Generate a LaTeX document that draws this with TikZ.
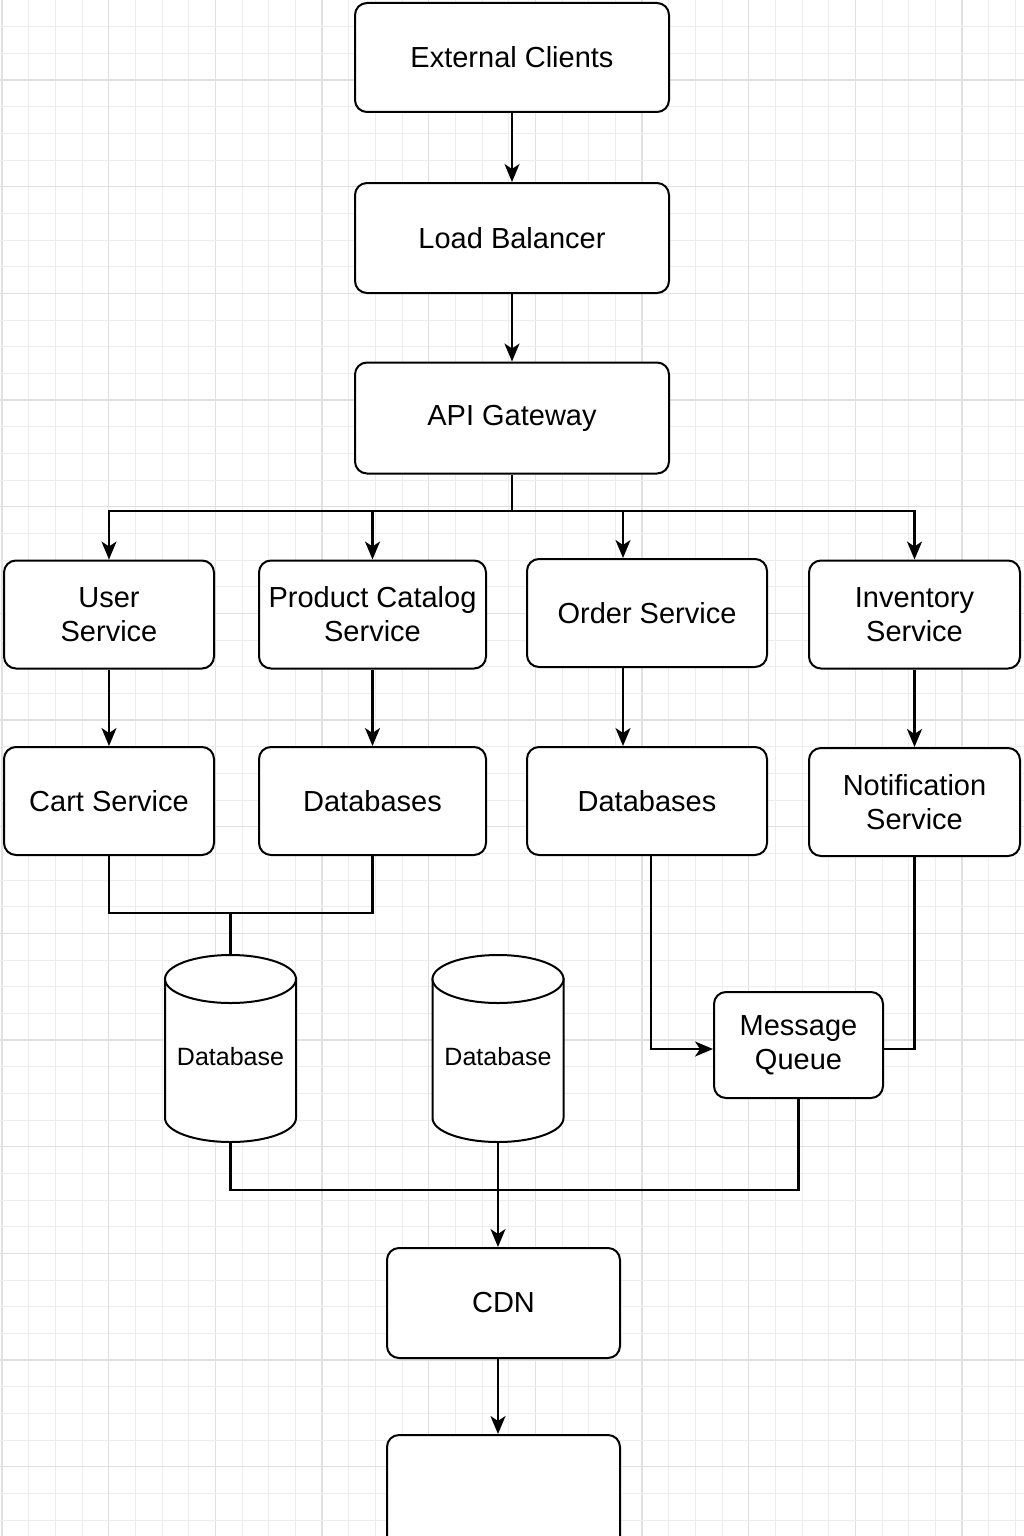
\documentclass[tikz,border=0pt]{standalone}
\usepackage{fontspec}
\setmainfont{Liberation Sans}
\usetikzlibrary{arrows.meta}
\begin{document}
\begin{tikzpicture}[x=1pt,y=-1pt,
  box/.style={draw, line width=2pt, rounded corners=12pt, fill=white, align=center, inner sep=0pt, font=\fontsize{29}{34}\selectfont},
  conn/.style={line width=2.2pt},
  arr/.style={conn, -{Stealth[length=18pt,width=15pt,inset=5pt]}},
  cyl/.style={draw, line width=2pt, fill=white},
  dbtext/.style={font=\fontsize{25}{30}\selectfont, inner sep=0pt},
  minorgrid/.style={draw=black!7, line width=1pt},
  majorgrid/.style={draw=black!12, line width=1.2pt}]
\clip (0,0) rectangle (1024,1536);
\fill[white] (0,0) rectangle (1024,1536);
% grid
\foreach \k in {0,...,38} {
  \pgfmathsetmacro{\xx}{2+26.667*\k}
  \pgfmathtruncatemacro{\m}{mod(\k,4)}
  \ifnum\m=0 \draw[majorgrid] (\xx,0) -- (\xx,1536); \else \draw[minorgrid] (\xx,0) -- (\xx,1536); \fi
}
\foreach \k in {0,...,58} {
  \pgfmathsetmacro{\yy}{26.667*\k}
  \pgfmathtruncatemacro{\m}{mod(\k,4)}
  \ifnum\m=3 \draw[majorgrid] (0,\yy) -- (1024,\yy); \else \draw[minorgrid] (0,\yy) -- (1024,\yy); \fi
}
% main column
\node[box, minimum width=314, minimum height=109] (ec) at (512,57.5) {External Clients};
\node[box, minimum width=314, minimum height=110] (lb) at (512,238) {Load Balancer};
\node[box, minimum width=314, minimum height=111] (api) at (512,418) {API Gateway};
% row 1
\node[box, minimum width=210, minimum height=108] (us) at (109,614.5) {User\\Service};
\node[box, minimum width=227, minimum height=108] (pc) at (372.5,614.5) {Product Catalog\\Service};
\node[box, minimum width=240, minimum height=108] (os) at (647,613) {Order Service};
\node[box, minimum width=211, minimum height=108] (is) at (914.5,614.5) {Inventory\\Service};
% row 2
\node[box, minimum width=210, minimum height=108] (cs) at (109,801) {Cart Service};
\node[box, minimum width=227, minimum height=108] (pdb) at (372.5,801) {Databases};
\node[box, minimum width=240, minimum height=108] (odb) at (647,801) {Databases};
\node[box, minimum width=211, minimum height=108] (ns) at (914.5,802) {Notification\\Service};
% message queue
\node[box, minimum width=169, minimum height=106] (mq) at (798.5,1045) {Message\\Queue};
% cylinders
\node[minimum width=131, minimum height=187, inner sep=0pt] (db1) at (230.5,1048.5) {};
\draw[cyl] (165,979) -- (165,1118) arc[start angle=180, end angle=0, x radius=65.5, y radius=24] -- (296,979) -- cycle;
\draw[cyl] (230.5,979) ellipse[x radius=65.5, y radius=24];
\node[dbtext] (db1t) at (230.5,1057) {Database};
\node[minimum width=131, minimum height=187, inner sep=0pt] (db2) at (498,1048.5) {};
\draw[cyl] (432.5,979) -- (432.5,1118) arc[start angle=180, end angle=0, x radius=65.5, y radius=24] -- (563.5,979) -- cycle;
\draw[cyl] (498,979) ellipse[x radius=65.5, y radius=24];
\node[dbtext] (db2t) at (498,1057) {Database};
% CDN and output
\node[box, minimum width=233, minimum height=110] (cdn) at (503.5,1303) {CDN};
\node[box, minimum width=233, minimum height=125] (out) at (503.5,1497.5) {};
% connectors
\draw[arr] (ec) -- (lb);
\draw[arr] (lb) -- (api);
\coordinate (j) at (512,511);
\draw[conn] (api.south) -- (j);
\draw[arr] (j) -| (us.north);
\draw[arr] (j) -| (pc.north);
\draw[arr] (j) -| ([xshift=-24pt]os.north);
\draw[arr] (j) -| (is.north);
\draw[arr] (us) -- (cs);
\draw[arr] (pc) -- (pdb);
\draw[arr] ([xshift=-24pt]os.south) -- ([xshift=-24pt]odb.north);
\draw[arr] (is) -- (ns);
\coordinate (m1) at (230.5,913);
\draw[conn] (cs.south) |- (m1) -| (pdb.south);
\draw[conn] (m1) -- (db1.north);
\draw[arr] ([xshift=4pt]odb.south) |- ([yshift=-4pt]mq.west);
\draw[conn] (ns.south) |- ([yshift=-4pt]mq.east);
\coordinate (j2) at (498,1190);
\draw[conn] (db1.south) |- (j2);
\draw[conn] (mq.south) |- (j2);
\draw[arr] (db2.south) -- ([xshift=-5.5pt]cdn.north);
\draw[arr] ([xshift=-5.5pt]cdn.south) -- ([xshift=-5.5pt]out.north);
\end{tikzpicture}
\end{document}
